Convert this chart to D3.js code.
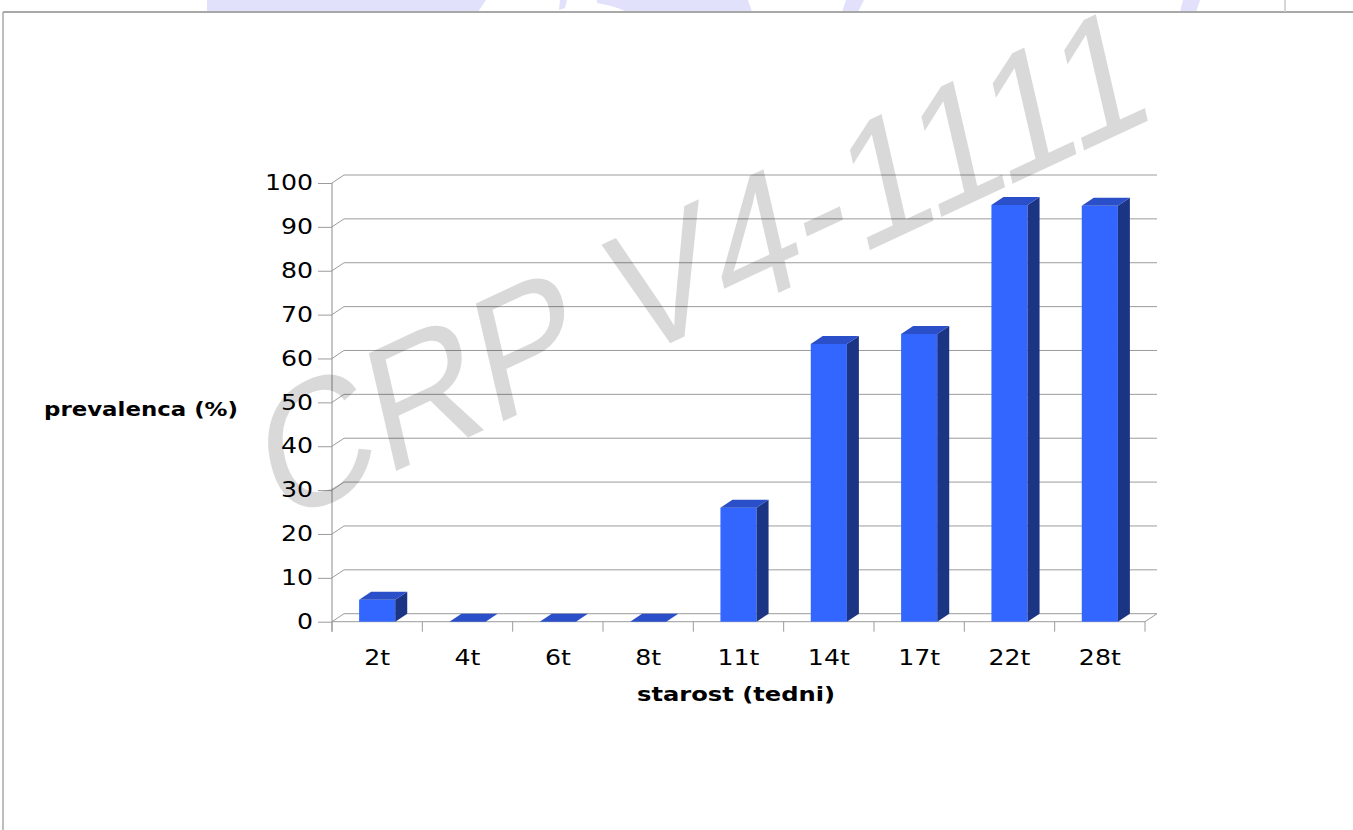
<!DOCTYPE html>
<html>
<head>
<meta charset="utf-8">
<script src="https://cdn.jsdelivr.net/npm/d3@7/dist/d3.min.js"></script>
<style>
  body { margin: 0; background: #fff; }
  svg { display: block; }
</style>
</head>
<body>
<div id="chart"></div>
<script>
// Datos del grafico
const categories = ["2t", "4t", "6t", "8t", "11t", "14t", "17t", "22t", "28t"];
const prevalence = [5, 0, 0, 0, 26, 63.3, 65.6, 95, 94.8];
const yTicks = [0, 10, 20, 30, 40, 50, 60, 70, 80, 90, 100];
const yTitle = "prevalenca (%)";
const xTitle = "starost (tedni)";
const watermark = "CRP V4-1111";

const width = 1353;
const height = 830;

// Profundidad del efecto 3D
const dx = 12, dy = -8;

const svg = d3.select("#chart").append("svg")
    .attr("width", width)
    .attr("height", height);

// Cabecera de la pagina (restos de color y marco)
const header = svg.append("g");
header.selectAll("path")
    .data([
        "M207,0 L486,0 L478,12 L207,12 Z",
        "M560,0 L567,0 L565,8 L559,10 Z",
        "M597,0 L748,0 L752,12 L627,12 Q615,6 597,3 Z",
        "M846,0 L864,0 L858,12 L842,12 Z",
        "M1183,0 L1200,0 L1196,12 L1180,12 Z"
    ])
    .enter().append("path")
    .attr("d", d => d)
    .attr("fill", "#e1e1fb");

svg.append("line").attr("x1", 3).attr("x2", width).attr("y1", 12).attr("y2", 12)
    .attr("stroke", "#a8a8a8").attr("stroke-width", 2);
svg.append("line").attr("x1", 3).attr("x2", 3).attr("y1", 12).attr("y2", height)
    .attr("stroke", "#a8a8a8").attr("stroke-width", 1.5);
svg.append("line").attr("x1", 1285).attr("x2", 1285).attr("y1", 0).attr("y2", 12)
    .attr("stroke", "#c8c8c8").attr("stroke-width", 1.5);

// Escalas
const x = d3.scaleBand()
    .domain(categories)
    .range([332, 1145])
    .paddingInner(0.6)
    .paddingOuter(0.3);

const xCell = d3.scaleBand()
    .domain(categories)
    .range([332, 1145]);

const y = d3.scaleLinear()
    .domain([0, 100])
    .range([621.7, 183]);

const plot = svg.append("g");

// Lineas de la rejilla (pared trasera + diagonal)
plot.selectAll(".grid")
    .data(yTicks)
    .enter().append("polyline")
    .attr("class", "grid")
    .attr("points", d => `${332},${y(d)} ${332 + dx},${y(d) + dy} ${1145 + dx},${y(d) + dy}`)
    .attr("fill", "none")
    .attr("stroke", "#9c9c9c")
    .attr("stroke-width", 1);

// Suelo: linea frontal y diagonal derecha
plot.append("polyline")
    .attr("points", `332,${y(0)} 1145,${y(0)} ${1145 + dx},${y(0) + dy}`)
    .attr("fill", "none")
    .attr("stroke", "#9c9c9c")
    .attr("stroke-width", 1);

// Eje Y
const yAxis = plot.append("g")
    .attr("transform", "translate(332,0)")
    .call(d3.axisLeft(y).tickValues(yTicks).tickSize(14).tickPadding(5));
yAxis.select(".domain").attr("stroke", "#8c8c8c").attr("d", `M0,${y(0) + 10}V${y(100)}`);
yAxis.selectAll(".tick line").attr("stroke", "#9c9c9c");
yAxis.selectAll(".tick text")
    .attr("font-family", "DejaVu Sans")
    .attr("font-size", 21)
    .attr("fill", "#000")
    .attr("transform", function() {
        const tx = +this.getAttribute("x");
        return `translate(${tx},0) scale(1.2,1)`;
    })
    .attr("x", 0);

// Eje X: marcas en los limites de cada categoria
const xBounds = categories.map(c => xCell(c)).concat([xCell.range()[1]]);
plot.selectAll(".xtick")
    .data(xBounds)
    .enter().append("line")
    .attr("class", "xtick")
    .attr("x1", d => d).attr("x2", d => d)
    .attr("y1", y(0)).attr("y2", y(0) + 10)
    .attr("stroke", "#9c9c9c");

const xAxis = plot.append("g")
    .attr("transform", `translate(0,${y(0)})`)
    .call(d3.axisBottom(x).tickSize(0).tickPadding(28));
xAxis.select(".domain").remove();
xAxis.selectAll(".tick text")
    .attr("font-family", "DejaVu Sans")
    .attr("font-size", 21)
    .attr("fill", "#000")
    .attr("transform", "scale(1.2,1)")
    .attr("x", 0);

// Barras 3D
const bw = x.bandwidth();
const bars = plot.selectAll(".bar")
    .data(categories.map((c, i) => ({ cat: c, value: prevalence[i] })))
    .enter().append("g")
    .attr("class", "bar");

bars.append("rect")
    .attr("x", d => x(d.cat))
    .attr("y", d => y(d.value))
    .attr("width", bw)
    .attr("height", d => y(0) - y(d.value))
    .attr("fill", "#3366ff");

bars.filter(d => d.value > 0).append("polygon")
    .attr("points", d => {
        const x0 = x(d.cat) + bw, yt = y(d.value), yb = y(0);
        return `${x0},${yt} ${x0 + dx},${yt + dy} ${x0 + dx},${yb + dy} ${x0},${yb}`;
    })
    .attr("fill", "#1b3483");

bars.append("polygon")
    .attr("points", d => {
        const x0 = x(d.cat), yt = y(d.value);
        return `${x0},${yt} ${x0 + dx},${yt + dy} ${x0 + bw + dx},${yt + dy} ${x0 + bw},${yt}`;
    })
    .attr("fill", "#2a4fc8");

// Titulos de los ejes
svg.append("text")
    .attr("x", 44)
    .attr("y", 416)
    .attr("font-family", "DejaVu Sans")
    .attr("font-weight", "bold")
    .attr("font-size", 19)
    .attr("textLength", 194)
    .attr("lengthAdjust", "spacingAndGlyphs")
    .text(yTitle);

svg.append("text")
    .attr("x", 637)
    .attr("y", 701)
    .attr("font-family", "DejaVu Sans")
    .attr("font-weight", "bold")
    .attr("font-size", 19)
    .attr("textLength", 198)
    .attr("lengthAdjust", "spacingAndGlyphs")
    .text(xTitle);

// Marca de agua
svg.append("clipPath").attr("id", "page")
    .append("rect").attr("x", 4).attr("y", 13).attr("width", width).attr("height", height);

svg.append("g")
    .attr("clip-path", "url(#page)")
    .append("text")
    .attr("transform", "translate(716,322) rotate(-25) skewX(-12) scale(0.95,1)")
    .attr("text-anchor", "middle")
    .attr("font-family", "Liberation Sans")
    .attr("font-size", 172)
    .attr("fill", "#000")
    .attr("fill-opacity", 0.15)
    .text(watermark);
</script>
</body>
</html>
